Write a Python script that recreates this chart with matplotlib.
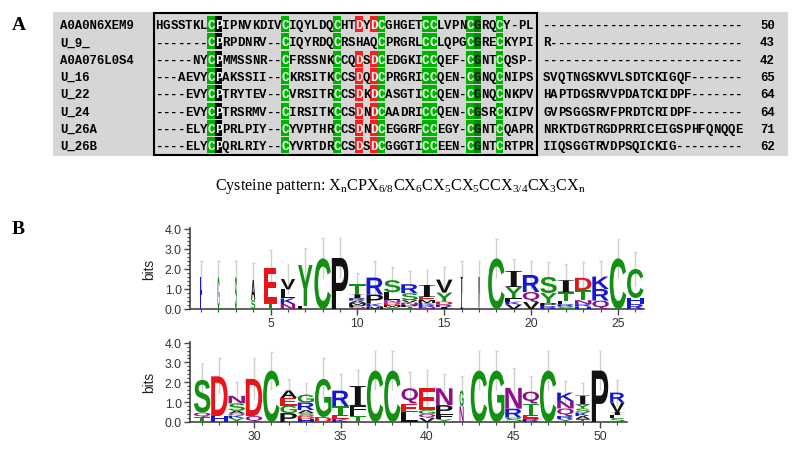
import matplotlib
matplotlib.use('Agg')
import matplotlib.pyplot as plt
from matplotlib.patches import Rectangle, PathPatch
from matplotlib.textpath import TextPath
from matplotlib.font_manager import FontProperties
from matplotlib.transforms import Affine2D
from matplotlib.ticker import MultipleLocator

plt.rcParams['mathtext.fontset'] = 'custom'
plt.rcParams['mathtext.rm'] = 'Liberation Serif'

# alignment (panel A)
names = ['A0A0N6XEM9', 'U_9_', 'A0A076L0S4', 'U_16', 'U_22', 'U_24', 'U_26A', 'U_26B']
core = [
    'HGSSTKLCPIPNVKDIVCIQYLDQCHTDYDCGHGETCCLVPNCGRQCY-PL',
    '-------CPRPDNRV--CIQYRDQCRSHAQCPRGRLCCLQPGCGRECKYPI',
    '-----NYCPMMSSNR--CFRSSNKCCQDSDCEDGKICCQEF-CGNTCQSP-',
    '---AEVYCPAKSSII--CKRSITKCCSDQDCPRGRICCQEN-CGNQCNIPS',
    '----EVYCPTRYTEV--CVRSITRCCSDKDCASGTICCQEN-CGNQCNKPV',
    '----EVYCPTRSRMV--CIRSITKCCSDNDCAADRICCQEN-CGSRCKIPV',
    '----ELYCPPRLPIY--CYVPTHRCCSDNDCEGGRFCCEGY-CGNTCQAPR',
    '----ELYCPQRLRIY--CYVRTDRCCSDSDCGGGTICCEEN-CGNTCRTPR',
]
tails = [
    '---------------------------',
    'R--------------------------',
    '---------------------------',
    'SVQTNGSKVVLSDTCKIGQF-------',
    'HAPTDGSRVVPDATCKIDPF-------',
    'GVPSGGSRVFPRDTCRIDPF-------',
    'NRKTDGTRGDPRRICEIGSPHFQNQQE',
    'IIQSGGTRVDPSQICKIG---------',
]
lengths = [50, 43, 42, 65, 64, 64, 71, 62]

green_cols = [8, 18, 25, 31, 37, 38, 43, 47]
dark_green_cols = [44]
black_cols = [9]
red_cols = [28, 30]

# sequence logo (panel B), letters listed bottom -> top, heights in bits
logo1_pos = list(range(1, 27))
logo1_stacks = [
    [('H', 1.6)],
    [('G', 1.6)],
    [('S', 1.6)],
    [('S', 0.45), ('A', 1.0)],
    [('T', 0.3), ('E', 1.75)],
    [('N', 0.25), ('K', 0.28), ('L', 0.45), ('V', 0.52)],
    [('L', 0.15), ('Y', 2.05)],
    [('C', 2.53)],
    [('P', 2.55)],
    [('Q', 0.1), ('P', 0.1), ('M', 0.1), ('A', 0.12), ('R', 0.12), ('I', 0.2), ('T', 0.5)],
    [('M', 0.12), ('K', 0.15), ('P', 0.45), ('R', 0.85)],
    [('Y', 0.1), ('M', 0.1), ('D', 0.12), ('N', 0.12), ('L', 0.4), ('S', 0.6)],
    [('T', 0.1), ('P', 0.1), ('N', 0.12), ('V', 0.12), ('S', 0.35), ('R', 0.45)],
    [('N', 0.1), ('R', 0.1), ('K', 0.1), ('M', 0.15), ('E', 0.15), ('I', 0.6)],
    [('I', 0.1), ('R', 0.12), ('D', 0.15), ('Y', 0.45), ('V', 0.65)],
    [('I', 1.6)],
    [('V', 1.6)],
    [('C', 2.53)],
    [('V', 0.22), ('K', 0.15), ('F', 0.18), ('Y', 0.55), ('I', 0.8)],
    [('V', 0.35), ('Q', 0.5), ('R', 0.85)],
    [('R', 0.15), ('P', 0.15), ('Y', 0.5), ('S', 0.8)],
    [('S', 0.12), ('R', 0.12), ('L', 0.15), ('T', 0.45), ('I', 0.6)],
    [('H', 0.12), ('R', 0.12), ('N', 0.2), ('T', 0.5), ('D', 0.62)],
    [('Q', 0.42), ('R', 0.58), ('K', 0.62)],
    [('C', 2.53)],
    [('R', 0.25), ('H', 0.3), ('C', 1.45)],
]
logo1_err = [2.4, 2.4, 2.4, 2.3, 2.95, 2.25, 3.05, 3.55, 3.55, 1.8, 2.4, 2.1, 1.9,
             1.95, 2.1, 2.4, 2.4, 3.5, 2.5, 2.42, 2.33, 2.25, 2.33, 2.42, 3.5, 2.87]

logo2_pos = list(range(27, 52))
logo2_stacks = [
    [('T', 0.25), ('Q', 0.22), ('S', 1.65)],
    [('H', 0.3), ('D', 2.0)],
    [('Y', 0.2), ('K', 0.12), ('Q', 0.12), ('A', 0.12), ('S', 0.38), ('N', 0.38)],
    [('Q', 0.3), ('D', 1.87)],
    [('C', 2.59)],
    [('P', 0.45), ('G', 0.38), ('E', 0.38), ('A', 0.38)],
    [('H', 0.15), ('D', 0.15), ('S', 0.15), ('A', 0.15), ('R', 0.38), ('G', 0.4)],
    [('D', 0.25), ('G', 1.92)],
    [('K', 0.15), ('E', 0.2), ('T', 0.45), ('R', 0.78)],
    [('T', 0.28), ('L', 0.18), ('F', 0.35), ('I', 1.0)],
    [('C', 2.59)],
    [('C', 2.59)],
    [('L', 0.48), ('E', 0.45), ('Q', 0.77)],
    [('V', 0.2), ('Q', 0.2), ('G', 0.2), ('E', 1.1)],
    [('Y', 0.15), ('F', 0.25), ('P', 0.45), ('N', 0.85)],
    [('N', 0.8), ('G', 0.78)],
    [('C', 2.59)],
    [('G', 2.59)],
    [('S', 0.22), ('R', 0.45), ('N', 1.05)],
    [('R', 0.15), ('E', 0.18), ('T', 0.6), ('Q', 0.6)],
    [('C', 2.59)],
    [('Y', 0.15), ('R', 0.15), ('Q', 0.38), ('N', 0.38), ('K', 0.42)],
    [('T', 0.15), ('A', 0.15), ('K', 0.18), ('S', 0.2), ('Y', 0.2), ('I', 0.45)],
    [('P', 2.59)],
    [('S', 0.2), ('L', 0.15), ('I', 0.15), ('V', 0.48), ('R', 0.5)],
]
logo2_err = [2.96, 3.2, 2.0, 3.2, 3.55, 2.17, 1.97, 3.2, 2.42, 2.62, 3.56, 3.56, 2.5,
             2.6, 2.42, 2.34, 3.56, 3.56, 2.7, 2.34, 3.56, 2.08, 1.97, 3.56, 2.13]

aa_colors = {}
for a in 'GSTYC':
    aa_colors[a] = '#129012'
for a in 'NQ':
    aa_colors[a] = '#8c118c'
for a in 'KRH':
    aa_colors[a] = '#1616d6'
for a in 'DE':
    aa_colors[a] = '#e8141a'
for a in 'AVLIPWFM':
    aa_colors[a] = '#111111'

fig = plt.figure(figsize=(7.99, 4.52), dpi=100)

# full-figure axes in pixel units for panel A
ax0 = fig.add_axes([0, 0, 1, 1])
ax0.set_xlim(0, 799)
ax0.set_ylim(452, 0)
ax0.axis('off')

cw = 7.4
rh = 17.3
x_core = 155.5
x_tail = 543
y_top = 25
mono = dict(family='Liberation Mono', weight='bold', size=8.9)

ax0.add_patch(Rectangle((53, 13), 735, 144, fc='#d6d6d6', ec='none'))
ax0.add_patch(Rectangle((154, 14), 383, 142, fc='none', ec='black', lw=1.5))

for i, name in enumerate(names):
    y = y_top + i * rh
    ax0.text(60, y + 4, name, ha='left', va='baseline', **mono)
    for j, ch in enumerate(core[i]):
        x = x_core + cw * (j + 0.5)
        col = j + 1
        fc = None
        tc = 'black'
        if col in green_cols and ch == 'C':
            fc, tc = '#00b200', 'white'
        elif col in dark_green_cols and ch == 'G':
            fc, tc = '#008c00', '#111111'
        elif col in black_cols and ch == 'P':
            fc, tc = '#000000', 'white'
        elif col in red_cols and ch == 'D':
            fc, tc = '#ff1c1c', 'white'
        if fc:
            ax0.add_patch(Rectangle((x - cw / 2, y - 8), cw, 16, fc=fc, ec='none'))
        ax0.text(x, y + 4, ch, ha='center', va='baseline', color=tc, **mono)
    for j, ch in enumerate(tails[i]):
        ax0.text(x_tail + cw * (j + 0.5), y + 4, ch, ha='center', va='baseline', **mono)
    ax0.text(760, y + 4, str(lengths[i]), ha='left', va='baseline', **mono)

ax0.text(12, 26, 'A', ha='left', va='center', family='Liberation Serif',
         weight='bold', size=14)
ax0.text(12, 230, 'B', ha='left', va='center', family='Liberation Serif',
         weight='bold', size=14)
ax0.text(400, 187, r'Cysteine pattern: X$_\mathrm{n}$CPX$_\mathrm{6/8}$CX$_\mathrm{6}$'
         r'CX$_\mathrm{5}$CX$_\mathrm{5}$CCX$_\mathrm{3/4}$CX$_\mathrm{3}$CX$_\mathrm{n}$',
         ha='center', va='center', family='Liberation Serif', size=11.6)

# fraction of non-gap residues per alignment column -> letter width
frac = [sum(1 for s in core if s[k] != '-') / len(core) for k in range(len(core[0]))]

fp_sans = FontProperties(family='Liberation Sans', weight='bold')
fp_serif = FontProperties(family='Liberation Serif', weight='normal')


def draw_letter(ax, ch, x, y, w, h, color):
    tp = TextPath((0, 0), ch, size=1, prop=fp_serif if ch == 'I' else fp_sans)
    bb = tp.get_extents()
    tr = (Affine2D().translate(-bb.x0, -bb.y0)
          .scale(w / bb.width, h / bb.height).translate(x - w / 2, y))
    ax.add_patch(PathPatch(tr.transform_path(tp), fc=color, ec='none', lw=0, zorder=3))


def draw_logo(rect, positions, stacks, err, xlim, px_width):
    ax = fig.add_axes(rect)
    for p, stack, e in zip(positions, stacks, err):
        w = 0.95 * frac[p - 1]
        y = 0
        for ch, h in stack:
            draw_letter(ax, ch, p, y, w, h, aa_colors[ch])
            y += h
        ax.vlines(p, 2 * y - e, e, color='#cfcfcf', lw=1, zorder=2)
        ax.hlines(e, p - 0.08, p + 0.08, color='#cfcfcf', lw=1, zorder=2)
    ax.set_xlim(*xlim)
    ax.set_ylim(0, 4.05)
    ax.set_yticks([0, 1, 2, 3, 4])
    ax.set_yticklabels(['0.0', '1.0', '2.0', '3.0', '4.0'])
    ax.yaxis.set_minor_locator(MultipleLocator(0.2))
    ax.xaxis.set_major_locator(MultipleLocator(5))
    ax.xaxis.set_minor_locator(MultipleLocator(1))
    ax.tick_params(which='major', length=4, width=1, color='#444444',
                   labelsize=8.8, labelcolor='#333333', pad=2)
    ax.tick_params(which='minor', length=2.5, width=0.8, color='#444444')
    for lab in ax.get_xticklabels() + ax.get_yticklabels():
        lab.set_family('Liberation Sans')
    for s in ['top', 'right']:
        ax.spines[s].set_visible(False)
    for s in ['left', 'bottom']:
        ax.spines[s].set_color('#444444')
        ax.spines[s].set_linewidth(1.2)
    ax.set_ylabel('bits', family='Liberation Sans', size=9.8, color='#222222')
    ax.yaxis.set_label_coords(-34 / px_width, 0.5)
    ax.patch.set_alpha(0)
    return ax


draw_logo([190 / 799, 1 - 310 / 452, 454 / 799, 81 / 452],
          logo1_pos, logo1_stacks, logo1_err, (0.36, 26.5), 454)
draw_logo([190 / 799, 1 - 423 / 452, 437 / 799, 80.4 / 452],
          logo2_pos, logo2_stacks, logo2_err, (26.3, 51.56), 437)

fig.savefig('out.png', dpi=100)
